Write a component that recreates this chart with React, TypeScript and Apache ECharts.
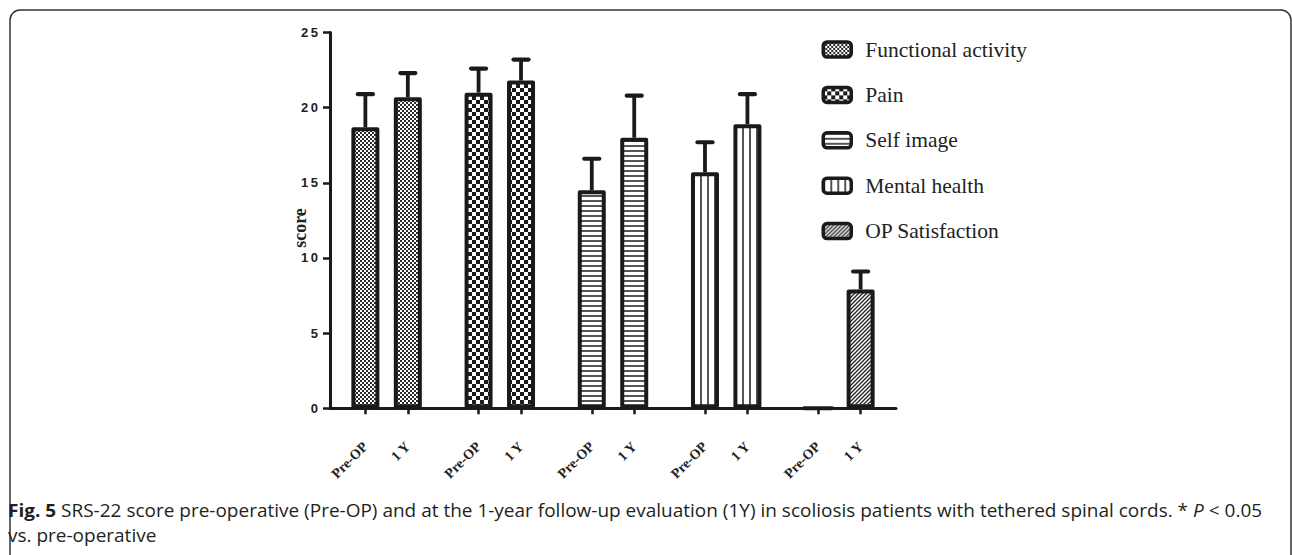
import React, { useEffect, useRef } from 'react';
import * as echarts from 'echarts';

// ---- data ----
const groups = ['Functional activity', 'Pain', 'Self image', 'Mental health', 'OP Satisfaction'];
const timepoints = ['Pre-OP', '1 Y'];
const preOpMean = [18.7, 21.0, 14.5, 15.7, 0];
const oneYearMean = [20.7, 21.8, 18.0, 18.9, 7.9];
const preOpSD: (number | null)[] = [2.2, 1.6, 2.1, 2.0, null];
const oneYearSD: (number | null)[] = [1.6, 1.4, 2.8, 2.0, 1.2];
const yMin = 0;
const yMax = 25;
const yStep = 5;
const yAxisTitle = 'score';
const captionLine1 =
  '{b|Fig. 5} SRS-22 score pre-operative (Pre-OP) and at the 1-year follow-up evaluation (1Y) in scoliosis patients with tethered spinal cords. * {i|P} < 0.05';
const captionLine2 = 'vs. pre-operative';

// ---- slot layout on the category axis (blank slots make the group gaps) ----
const LEAD = 2;
const PER_GROUP = 8;
const PAIR_OFFSET = 3;
const SLOT_COUNT = 40;

const slotKeys: string[] = Array.from({ length: SLOT_COUNT }, (_, i) => 'gap' + i);
const slotLabel: string[] = Array(SLOT_COUNT).fill('');
const slotIsBar: boolean[] = Array(SLOT_COUNT).fill(false);
groups.forEach((g, gi) => {
  timepoints.forEach((t, ti) => {
    const s = LEAD + PER_GROUP * gi + PAIR_OFFSET * ti;
    slotKeys[s] = g + '|' + t;
    slotLabel[s] = t;
    slotIsBar[s] = true;
  });
});

function makeTile(w: number, h: number, draw: (c: CanvasRenderingContext2D) => void) {
  const cv = document.createElement('canvas');
  cv.width = w;
  cv.height = h;
  const c = cv.getContext('2d')!;
  c.fillStyle = '#ffffff';
  c.fillRect(0, 0, w, h);
  draw(c);
  return cv;
}

function makePatterns() {
  const fine = makeTile(4, 4, (c) => {
    c.fillStyle = '#2a2a2a';
    c.fillRect(0, 0, 2, 2);
    c.fillRect(2, 2, 2, 2);
  });
  const coarse = makeTile(8, 8, (c) => {
    c.fillStyle = '#1a1a1a';
    c.fillRect(0, 0, 4, 4);
    c.fillRect(4, 4, 4, 4);
  });
  const horiz = makeTile(4, 5, (c) => {
    c.fillStyle = '#555555';
    c.fillRect(0, 0, 4, 2);
  });
  const vert = makeTile(7, 4, (c) => {
    c.fillStyle = '#555555';
    c.fillRect(0, 0, 2, 4);
  });
  const diag = makeTile(4, 4, (c) => {
    c.strokeStyle = '#222222';
    c.lineWidth = 1.3;
    c.beginPath();
    c.moveTo(-1, 1); c.lineTo(1, -1);
    c.moveTo(0, 4); c.lineTo(4, 0);
    c.moveTo(3, 5); c.lineTo(5, 3);
    c.stroke();
  });
  return [fine, coarse, horiz, vert, diag];
}

export default function App() {
  const ref = useRef<HTMLDivElement>(null);
  useEffect(() => {
    if (!ref.current) return;
    const chart = echarts.init(ref.current, null, { renderer: 'svg' });
    const patterns = makePatterns();
    const means = [preOpMean, oneYearMean];
    const sds = [preOpSD, oneYearSD];

    const barSeries = groups.map((g, gi) => ({
      type: 'bar',
      name: g,
      stack: 'all',
      barWidth: 28,
      silent: true,
      data: slotKeys.map((_, s) => {
        for (let ti = 0; ti < timepoints.length; ti++) {
          if (s === LEAD + PER_GROUP * gi + PAIR_OFFSET * ti) return means[ti][gi];
        }
        return '-';
      }),
      itemStyle: {
        color: { image: patterns[gi], repeat: 'repeat' },
        borderColor: '#1a1a1a',
        borderWidth: 4,
        borderJoin: 'round',
      },
    }));

    const errData: number[][] = [];
    groups.forEach((g, gi) => {
      timepoints.forEach((t, ti) => {
        const sd = sds[ti][gi];
        if (sd == null) return;
        const s = LEAD + PER_GROUP * gi + PAIR_OFFSET * ti;
        errData.push([s, means[ti][gi], means[ti][gi] + sd]);
      });
    });

    chart.setOption({
      animation: false,
      grid: { left: 330, right: 396, top: 32.5, bottom: 146.7 },
      legend: {
        data: groups,
        orient: 'vertical',
        left: 821.5,
        top: 38.5,
        padding: 0,
        itemWidth: 28,
        itemHeight: 15,
        itemGap: 23.4,
        icon: 'roundRect',
        selectedMode: false,
        itemStyle: { borderColor: '#1a1a1a', borderWidth: 3.5 },
        textStyle: { fontFamily: 'Liberation Serif', fontSize: 21.5, color: '#222', padding: [0, 0, 0, 9] },
      },
      xAxis: {
        type: 'category',
        data: slotKeys,
        boundaryGap: true,
        axisLine: { lineStyle: { color: '#1a1a1a', width: 3 } },
        axisTick: {
          show: true,
          alignWithLabel: true,
          length: 6,
          lineStyle: { color: '#1a1a1a', width: 2.5 },
          interval: (i: number) => slotIsBar[i],
        },
        axisLabel: {
          interval: (i: number) => slotIsBar[i],
          formatter: (v: string, i: number) => slotLabel[i],
          rotate: 45,
          margin: 36,
          fontFamily: 'Liberation Serif',
          fontWeight: 'bold',
          fontSize: 14,
          color: '#222',
        },
        splitLine: { show: false },
      },
      yAxis: {
        type: 'value',
        min: yMin,
        max: yMax,
        interval: yStep,
        axisLine: { show: true, lineStyle: { color: '#1a1a1a', width: 3 } },
        axisTick: { show: true, length: 7, lineStyle: { color: '#1a1a1a', width: 2.5 } },
        axisLabel: {
          formatter: (v: number) => String(v).split('').join('\u2009'),
          fontFamily: 'Liberation Sans',
          fontWeight: 'bold',
          fontSize: 13,
          color: '#222',
          margin: 12,
        },
        splitLine: { show: false },
      },
      series: [
        ...barSeries,
        {
          type: 'custom',
          name: 'SD',
          silent: true,
          z: 3,
          data: errData,
          encode: { x: 0, y: [1, 2] },
          renderItem: (params: any, api: any) => {
            const x = api.value(0);
            const p0 = api.coord([x, api.value(1)]);
            const p1 = api.coord([x, api.value(2)]);
            return {
              type: 'group',
              children: [
                {
                  type: 'line',
                  shape: { x1: p0[0], y1: p0[1], x2: p1[0], y2: p1[1] },
                  style: { stroke: '#1a1a1a', lineWidth: 3.8 },
                },
                {
                  type: 'line',
                  shape: { x1: p1[0] - 7.5, y1: p1[1], x2: p1[0] + 7.5, y2: p1[1] },
                  style: { stroke: '#1a1a1a', lineWidth: 4.2, lineCap: 'round' },
                },
              ],
            };
          },
        },
      ],
      graphic: [
        {
          type: 'rect',
          shape: { x: 10, y: 10, width: 1281, height: 560, r: 10 },
          style: { fill: 'none', stroke: '#333', lineWidth: 1.5 },
          silent: true,
          z: -10,
        },
        {
          type: 'text',
          x: 300,
          y: 228,
          rotation: Math.PI / 2,
          style: {
            text: yAxisTitle,
            fontFamily: 'Liberation Serif',
            fontWeight: 'bold',
            fontSize: 18,
            fill: '#222',
            align: 'center',
            verticalAlign: 'middle',
          },
        },
        {
          type: 'text',
          x: 8,
          y: 510,
          scaleX: 1.055,
          style: {
            text: captionLine1,
            fontFamily: 'Open Sans',
            fontSize: 18,
            fill: '#231f20',
            verticalAlign: 'middle',
            rich: {
              b: { fontFamily: 'Open Sans', fontSize: 18, fontWeight: 'bold', fill: '#231f20' },
              i: { fontFamily: 'Open Sans', fontSize: 18, fontStyle: 'italic', fill: '#231f20' },
            },
          },
        },
        {
          type: 'text',
          x: 8,
          y: 535,
          scaleX: 1.055,
          style: {
            text: captionLine2,
            fontFamily: 'Open Sans',
            fontSize: 18,
            fill: '#231f20',
            verticalAlign: 'middle',
          },
        },
      ],
    });
    return () => chart.dispose();
  }, []);
  return (
    <div
      ref={ref}
      style={{ position: 'fixed', left: 0, top: 0, width: 1292, height: 555, background: '#fff' }}
    />
  );
}
